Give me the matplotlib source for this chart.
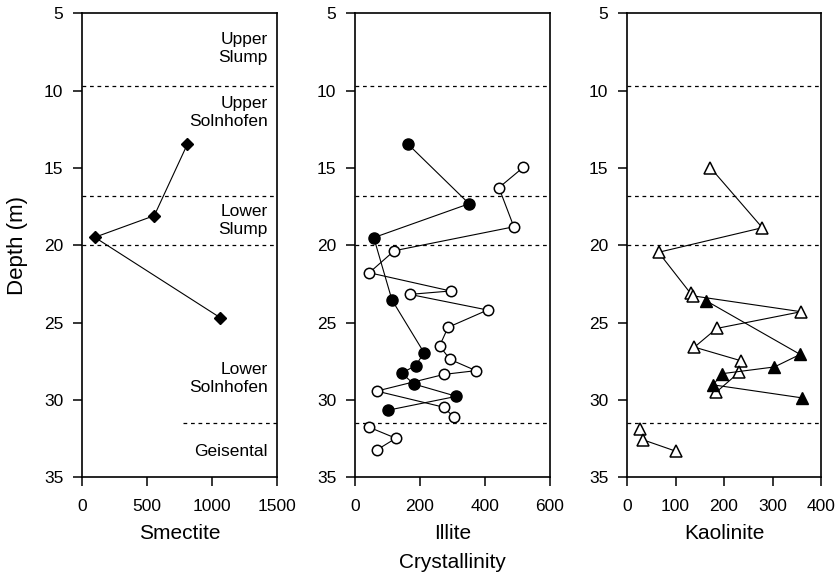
import matplotlib
matplotlib.use("Agg")
import matplotlib.pyplot as plt

plt.rcParams['font.family'] = ['Liberation Sans', 'DejaVu Sans']

# ---- data ----
smectite_depth = [13.47, 18.08, 19.48, 24.67]
smectite_val = [810, 556, 98, 1062]

illite_fill_depth = [13.47, 17.31, 19.5, 23.53, 26.94, 27.78, 28.25, 28.96, 29.76, 30.66]
illite_fill_val = [164, 352, 58, 114, 213, 187, 144, 181, 313, 101]

illite_open_depth = [14.96, 16.27, 18.8, 20.35, 21.77, 22.95, 23.17, 24.18, 25.3, 26.5,
                     27.37, 28.1, 28.34, 29.42, 30.47, 31.12]
illite_open_val = [519, 444, 490, 121, 44, 295, 169, 409, 287, 261,
                   293, 373, 275, 67, 275, 305]
illite_geis_depth = [31.76, 32.47, 33.23]
illite_geis_val = [44, 126, 67]

kaol_open_depth = [14.98, 18.86, 20.45, 23.1, 23.27, 24.29, 25.37, 26.58, 27.46, 28.21, 29.49]
kaol_open_val = [172, 279, 65, 131, 137, 359, 185, 139, 235, 231, 184]
kaol_geis_depth = [31.9, 32.58, 33.3]
kaol_geis_val = [27, 34, 100]

kaol_fill_depth = [23.58, 27.05, 27.86, 28.3, 29.02, 29.86]
kaol_fill_val = [163, 357, 304, 195, 178, 361]

boundaries = [9.7, 16.8, 20.0, 31.5]
unit_labels = ["Upper\nSlump", "Upper\nSolnhofen", "Lower\nSlump", "Lower\nSolnhofen", "Geisental"]
unit_label_depths = [7.3, 11.4, 18.4, 28.6, 33.3]

yticks = [5, 10, 15, 20, 25, 30, 35]

fig = plt.figure(figsize=(8.36, 5.74), dpi=100)
bottom = 1 - 477.4 / 574
height = (477.4 - 13.3) / 574
lefts = [82 / 836, 355 / 836, 627 / 836]
widths = [195 / 836, 194.5 / 836, 194 / 836]
axes = [fig.add_axes([l, bottom, w, height]) for l, w in zip(lefts, widths)]

xlims = [(0, 1500), (0, 600), (0, 400)]
xtick_sets = [[0, 500, 1000, 1500], [0, 200, 400, 600], [0, 100, 200, 300, 400]]
xlabels = ["Smectite", "Illite\nCrystallinity", "Kaolinite"]

for i, ax in enumerate(axes):
    ax.set_xlim(*xlims[i])
    ax.set_ylim(35, 5)
    ax.set_yticks(yticks)
    ax.set_xticks(xtick_sets[i])
    ax.tick_params(direction='out', length=6.5, width=1.1, labelsize=12.5, colors='black')
    ax.tick_params(axis='x', pad=9)
    ax.tick_params(axis='y', pad=7)
    for s in ax.spines.values():
        s.set_linewidth(1.2)
    ax.set_xlabel(xlabels[i], fontsize=15, labelpad=7, linespacing=1.7)
    for j, b in enumerate(boundaries):
        if i == 0 and j == 3:
            ax.axhline(b, xmin=0.52, xmax=1, color='black', lw=0.9, ls=(0, (3, 3)))
        else:
            ax.axhline(b, color='black', lw=0.9, ls=(0, (3, 3)))

axes[0].set_ylabel("Depth (m)", fontsize=16, labelpad=11)

# Smectite
axes[0].plot(smectite_val, smectite_depth, color='black', lw=0.8, marker='D', ms=6.5,
             mfc='black', mec='black')
for lab, d in zip(unit_labels, unit_label_depths):
    axes[0].text(1430, d, lab, ha='right', va='center', fontsize=12.5, linespacing=1.25)

# Illite
axes[1].plot(illite_open_val, illite_open_depth, color='black', lw=0.8, marker='o', ms=7.5,
             mfc='white', mec='black', mew=1.1)
axes[1].plot(illite_geis_val, illite_geis_depth, color='black', lw=0.8, marker='o', ms=7.5,
             mfc='white', mec='black', mew=1.1)
axes[1].plot(illite_fill_val, illite_fill_depth, color='black', lw=0.8, marker='o', ms=8,
             mfc='black', mec='black')

# Kaolinite
axes[2].plot(kaol_open_val, kaol_open_depth, color='black', lw=0.8, marker='^', ms=8,
             mfc='white', mec='black', mew=1.1)
axes[2].plot(kaol_geis_val, kaol_geis_depth, color='black', lw=0.8, marker='^', ms=8,
             mfc='white', mec='black', mew=1.1)
axes[2].plot(kaol_fill_val, kaol_fill_depth, color='black', lw=0.8, marker='^', ms=8,
             mfc='black', mec='black')

fig.savefig("out.png", dpi=100)
